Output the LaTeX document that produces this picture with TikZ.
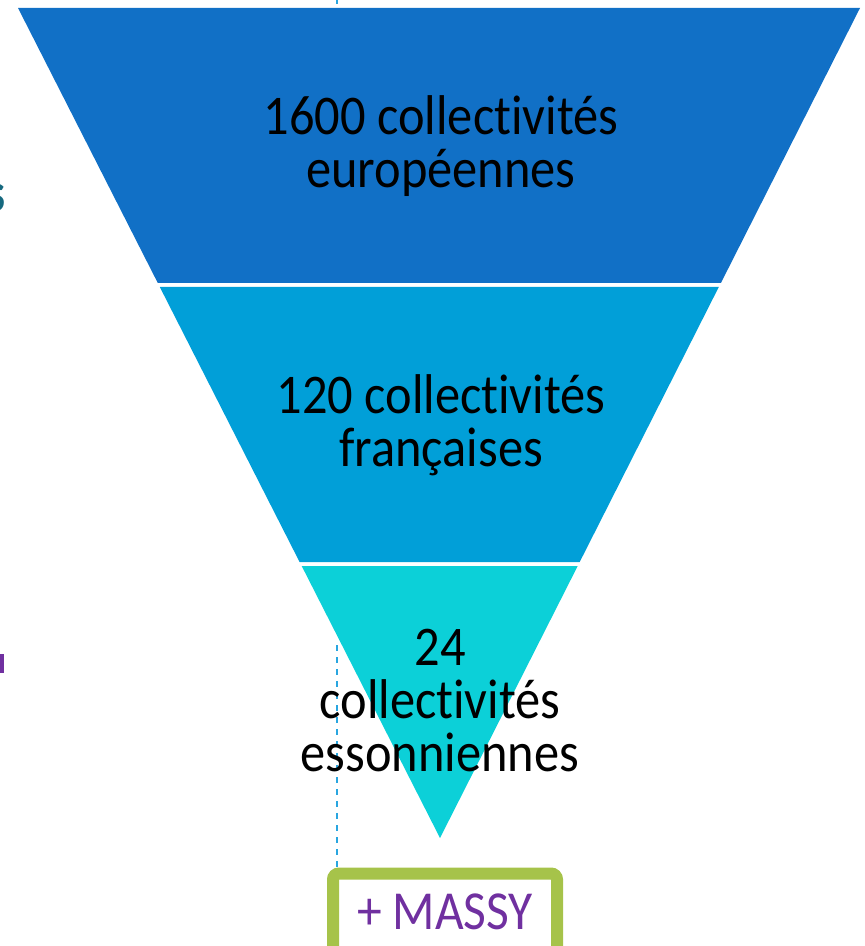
\documentclass[tikz,border=0pt]{standalone}
\usepackage{fontspec}
\setmainfont[FakeStretch=0.9,Ligatures=NoCommon]{Carlito}
\usepackage{tikz}
\usetikzlibrary{positioning}

\definecolor{bandeu}{HTML}{1170C6}
\definecolor{bandfr}{HTML}{019FD8}
\definecolor{bandes}{HTML}{0CD0D8}
\definecolor{massygreen}{HTML}{A6C34A}
\definecolor{massypurple}{HTML}{7030A0}
\definecolor{dashblue}{HTML}{29A6E0}
\definecolor{tealtext}{HTML}{16697F}

\tikzset{
  label/.style={align=center,font=\fontsize{28}{26.5}\selectfont,anchor=base},
  massybox/.style={draw=massygreen,line width=6pt,rounded corners=3pt,fill=white,
    text=massypurple,font=\fontsize{27.5}{27.5}\selectfont,anchor=north,
    minimum width=112pt,text height=16pt,text depth=25pt,inner ysep=11.75pt},
  guide/.style={dashblue,dashed,line width=0.6pt}
}

\begin{document}
\begin{tikzpicture}[x=0.5pt,y=-0.5pt]
\useasboundingbox (0,0) rectangle (864,946);
\node[massybox] (massy) at (445,867.5){+ MASSY};
\coordinate (guidetop) at (337,-2);
\draw[guide] (guidetop) -- (337,8);
% bands of the funnel
\fill[bandeu] (18,8) -- (860,8) -- (720.9,283) -- (157.8,283) -- cycle;
\fill[bandfr] (159.8,287) -- (718.8,287) -- (579.7,562) -- (299.6,562) -- cycle;
\fill[bandes] (301.7,566) -- (577.7,566) -- (440,838) -- cycle;
\coordinate (guidemid) at (337,645);
\draw[guide] (guidemid) -- (guidemid |- massy.north);
\node[label] (eu) at (441,188){1600 collectivités\\européennes};
\node[label] (fr) at (441,466){120 collectivités\\françaises};
\node[label] (es) at (440,771){24\\collectivités\\essonniennes};
% cut-off pieces at the left edge
\node[tealtext,font=\fontsize{28}{28}\selectfont\bfseries,anchor=base east,inner sep=0pt] (cut) at (6,212){s};
\fill[massypurple] (0,654) rectangle (4,673);
\end{tikzpicture}
\end{document}
